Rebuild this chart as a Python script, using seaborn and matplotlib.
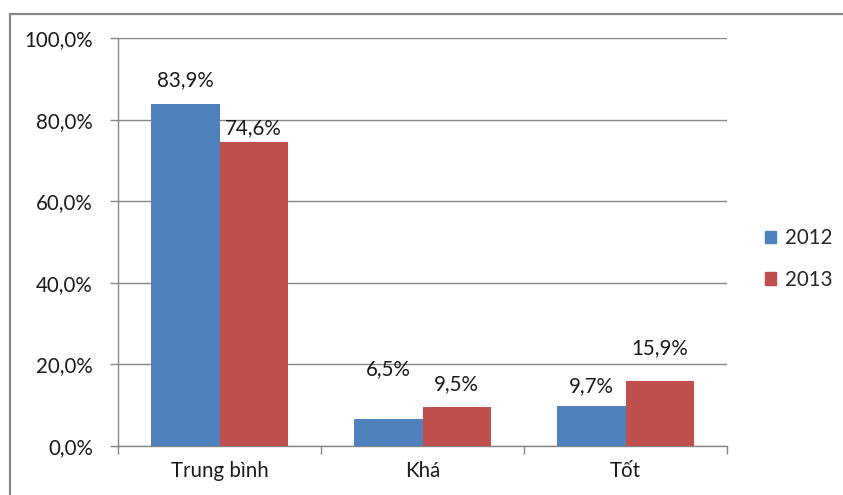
import matplotlib
matplotlib.use("Agg")
import matplotlib.pyplot as plt
import matplotlib.patches as mpatches
import seaborn as sns
import pandas as pd

categories = ["Trung bình", "Khá", "Tốt"]
years = ["2012", "2013"]
values_2012 = [83.9, 6.5, 9.7]
values_2013 = [74.6, 9.5, 15.9]
y_ticks = [0, 20, 40, 60, 80, 100]

# label offsets above bar tops (pixels), as placed in the original
label_offsets = {"2012": [24, 50, 20], "2013": [14, 23, 33]}

df = pd.DataFrame({
    "cat": categories * 2,
    "year": [years[0]] * 3 + [years[1]] * 3,
    "val": values_2012 + values_2013,
})

sns.set_theme(style="white")
plt.rcParams["font.family"] = ["Lato", "DejaVu Sans"]
FS = 14.8
TXT = "#1a1a1a"
GRAY = "#868686"
colors = {"2012": "#4F81BD", "2013": "#C0504D"}

fig = plt.figure(figsize=(8.43, 4.95), dpi=100)
ax = fig.add_axes([118 / 843, 1 - 446 / 495, (727 - 118) / 843, (446 - 38) / 495])

sns.barplot(data=df, x="cat", y="val", hue="year", palette=colors,
            width=0.67, gap=0, saturation=1, ax=ax, legend=False,
            edgecolor="none", linewidth=0, zorder=3)

ax.set_ylim(0, 100)
ax.set_xlim(-0.5, len(categories) - 0.5)
ax.set_yticks(y_ticks)
ax.set_yticklabels([f"{v:.1f}%".replace(".", ",") for v in y_ticks], fontsize=FS, color=TXT)
ax.yaxis.grid(True, color=GRAY, linewidth=1, zorder=0)
ax.set_axisbelow(True)
ax.set_xlabel("")
ax.set_ylabel("")
ax.set_xticks(range(len(categories)))
ax.set_xticklabels(categories, fontsize=FS, color=TXT)
ax.set_xticks([i - 0.5 for i in range(len(categories) + 1)], minor=True)
ax.tick_params(axis="x", which="major", length=0, pad=11)
ax.tick_params(axis="x", which="minor", length=6, width=1, color=GRAY, direction="out", bottom=True)
ax.tick_params(axis="y", which="major", length=6, width=1, color=GRAY, direction="out", pad=12, left=True)

for s in ["top", "right"]:
    ax.spines[s].set_visible(False)
for s in ["left", "bottom"]:
    ax.spines[s].set_color(GRAY)
    ax.spines[s].set_linewidth(1)

for cont, yr in zip(ax.containers, years):
    for bar, off in zip(cont, label_offsets[yr]):
        h = bar.get_height()
        ax.annotate(f"{h:.1f}%".replace(".", ","),
                    xy=(bar.get_x() + bar.get_width() / 2, h),
                    xytext=(0, off * 0.72), textcoords="offset points",
                    ha="center", va="center", fontsize=FS, color=TXT)

handles = [mpatches.Patch(color=colors[y], label=y) for y in years]
fig.legend(handles=handles, loc="center left", bbox_to_anchor=(765 / 843, 1 - 259 / 495),
           frameon=False, fontsize=FS, handlelength=0.55, handleheight=0.55,
           handletextpad=0.4, labelspacing=1.05, borderpad=0, borderaxespad=0)

frame = mpatches.Rectangle((10 / 843, -0.1), 1.2, (1 - 14 / 495) + 0.1,
                           transform=fig.transFigure, fill=False,
                           edgecolor=GRAY, linewidth=1.6, clip_on=False)
fig.patches.append(frame)

fig.savefig("out.png", dpi=100)
